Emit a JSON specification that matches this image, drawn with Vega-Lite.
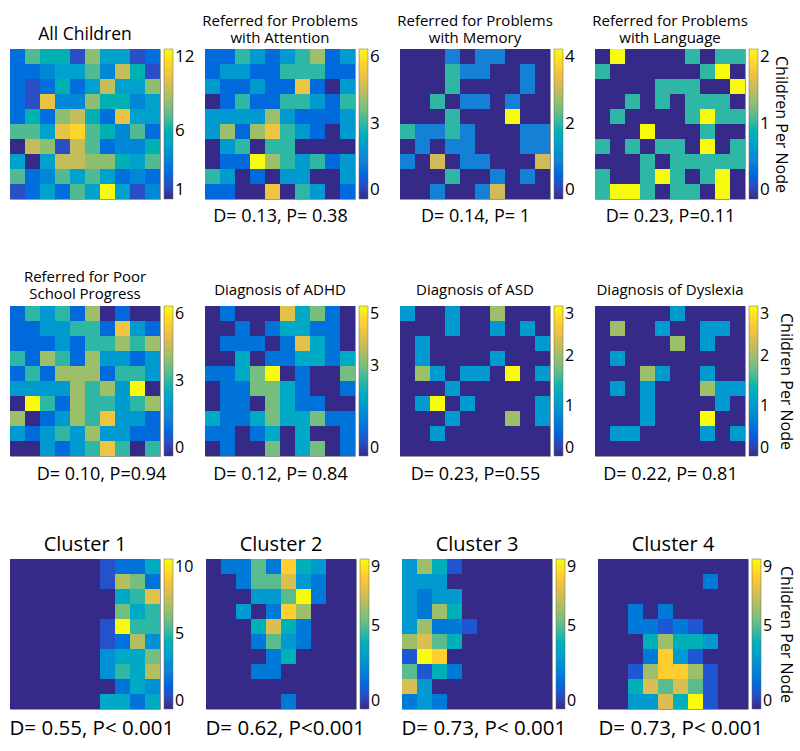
{
"$schema": "https://vega.github.io/schema/vega-lite/v6.json",
"background": "white",
"padding": {"left": 8, "top": 13, "right": 4, "bottom": 4},
"config": {
"font": "Open Sans",
"view": {"stroke": "#9a9a9a", "strokeWidth": 1},
"title": {"fontWeight": "normal", "color": "black", "frame": "group", "anchor": "middle", "lineHeight": 17},
"axis": {"titleFontWeight": "normal", "titleColor": "black"},
"legend": {"labelFontSize": 16, "labelColor": "black", "gradientThickness": 9, "labelOffset": 3, "offset": 4, "labelBaseline": "middle", "gradientStrokeColor": "#666", "gradientStrokeWidth": 0.5, "titleFontWeight": "normal", "titleColor": "black"}
},
"datasets": {
"p1": [
{"r":0,"c":0,"v":3},{"r":0,"c":1,"v":7},{"r":0,"c":2,"v":6},{"r":0,"c":3,"v":6},{"r":0,"c":4,"v":2},{"r":0,"c":5,"v":8},{"r":0,"c":6,"v":5},{"r":0,"c":7,"v":5},{"r":0,"c":8,"v":2},{"r":0,"c":9,"v":3},
{"r":1,"c":0,"v":3},{"r":1,"c":1,"v":3},{"r":1,"c":2,"v":4},{"r":1,"c":3,"v":5},{"r":1,"c":4,"v":5},{"r":1,"c":5,"v":7},{"r":1,"c":6,"v":4},{"r":1,"c":7,"v":9},{"r":1,"c":8,"v":6},{"r":1,"c":9,"v":2},
{"r":2,"c":0,"v":3},{"r":2,"c":1,"v":2},{"r":2,"c":2,"v":3},{"r":2,"c":3,"v":6},{"r":2,"c":4,"v":3},{"r":2,"c":5,"v":5},{"r":2,"c":6,"v":9},{"r":2,"c":7,"v":5},{"r":2,"c":8,"v":5},{"r":2,"c":9,"v":8},
{"r":3,"c":0,"v":3},{"r":3,"c":1,"v":2},{"r":3,"c":2,"v":10},{"r":3,"c":3,"v":4},{"r":3,"c":4,"v":4},{"r":3,"c":5,"v":8},{"r":3,"c":6,"v":6},{"r":3,"c":7,"v":6},{"r":3,"c":8,"v":4},{"r":3,"c":9,"v":5},
{"r":4,"c":0,"v":3},{"r":4,"c":1,"v":6},{"r":4,"c":2,"v":3},{"r":4,"c":3,"v":8},{"r":4,"c":4,"v":9},{"r":4,"c":5,"v":6},{"r":4,"c":6,"v":3},{"r":4,"c":7,"v":10},{"r":4,"c":8,"v":5},{"r":4,"c":9,"v":5},
{"r":5,"c":0,"v":7},{"r":5,"c":1,"v":7},{"r":5,"c":2,"v":5},{"r":5,"c":3,"v":10},{"r":5,"c":4,"v":11},{"r":5,"c":5,"v":7},{"r":5,"c":6,"v":6},{"r":5,"c":7,"v":4},{"r":5,"c":8,"v":7},{"r":5,"c":9,"v":3},
{"r":6,"c":0,"v":1},{"r":6,"c":1,"v":9},{"r":6,"c":2,"v":8},{"r":6,"c":3,"v":2},{"r":6,"c":4,"v":9},{"r":6,"c":5,"v":7},{"r":6,"c":6,"v":3},{"r":6,"c":7,"v":4},{"r":6,"c":8,"v":4},{"r":6,"c":9,"v":6},
{"r":7,"c":0,"v":5},{"r":7,"c":1,"v":1},{"r":7,"c":2,"v":5},{"r":7,"c":3,"v":9},{"r":7,"c":4,"v":9},{"r":7,"c":5,"v":8},{"r":7,"c":6,"v":8},{"r":7,"c":7,"v":6},{"r":7,"c":8,"v":5},{"r":7,"c":9,"v":7},
{"r":8,"c":0,"v":7},{"r":8,"c":1,"v":3},{"r":8,"c":2,"v":4},{"r":8,"c":3,"v":7},{"r":8,"c":4,"v":5},{"r":8,"c":5,"v":7},{"r":8,"c":6,"v":5},{"r":8,"c":7,"v":3},{"r":8,"c":8,"v":4},{"r":8,"c":9,"v":3},
{"r":9,"c":0,"v":2},{"r":9,"c":1,"v":3},{"r":9,"c":2,"v":5},{"r":9,"c":3,"v":3},{"r":9,"c":4,"v":7},{"r":9,"c":5,"v":5},{"r":9,"c":6,"v":12},{"r":9,"c":7,"v":5},{"r":9,"c":8,"v":2},{"r":9,"c":9,"v":4}
],
"p2": [
{"r":0,"c":0,"v":1},{"r":0,"c":1,"v":1},{"r":0,"c":2,"v":3},{"r":0,"c":3,"v":2},{"r":0,"c":4,"v":1},{"r":0,"c":5,"v":2},{"r":0,"c":6,"v":3},{"r":0,"c":7,"v":4},{"r":0,"c":8,"v":1},{"r":0,"c":9,"v":2},
{"r":1,"c":0,"v":1},{"r":1,"c":1,"v":2},{"r":1,"c":2,"v":2},{"r":1,"c":3,"v":1},{"r":1,"c":4,"v":1},{"r":1,"c":5,"v":3},{"r":1,"c":6,"v":3},{"r":1,"c":7,"v":3},{"r":1,"c":8,"v":1},{"r":1,"c":9,"v":1},
{"r":2,"c":0,"v":2},{"r":2,"c":1,"v":1},{"r":2,"c":2,"v":1},{"r":2,"c":3,"v":2},{"r":2,"c":4,"v":1},{"r":2,"c":5,"v":1},{"r":2,"c":6,"v":5},{"r":2,"c":7,"v":1},{"r":2,"c":8,"v":0},{"r":2,"c":9,"v":2},
{"r":3,"c":0,"v":0},{"r":3,"c":1,"v":1},{"r":3,"c":2,"v":3},{"r":3,"c":3,"v":1},{"r":3,"c":4,"v":1},{"r":3,"c":5,"v":3},{"r":3,"c":6,"v":3},{"r":3,"c":7,"v":2},{"r":3,"c":8,"v":1},{"r":3,"c":9,"v":3},
{"r":4,"c":0,"v":2},{"r":4,"c":1,"v":2},{"r":4,"c":2,"v":2},{"r":4,"c":3,"v":2},{"r":4,"c":4,"v":4},{"r":4,"c":5,"v":2},{"r":4,"c":6,"v":1},{"r":4,"c":7,"v":1},{"r":4,"c":8,"v":1},{"r":4,"c":9,"v":2},
{"r":5,"c":0,"v":2},{"r":5,"c":1,"v":4},{"r":5,"c":2,"v":1},{"r":5,"c":3,"v":4},{"r":5,"c":4,"v":5},{"r":5,"c":5,"v":3},{"r":5,"c":6,"v":2},{"r":5,"c":7,"v":1},{"r":5,"c":8,"v":0},{"r":5,"c":9,"v":2},
{"r":6,"c":0,"v":0},{"r":6,"c":1,"v":2},{"r":6,"c":2,"v":3},{"r":6,"c":3,"v":0},{"r":6,"c":4,"v":3},{"r":6,"c":5,"v":3},{"r":6,"c":6,"v":0},{"r":6,"c":7,"v":0},{"r":6,"c":8,"v":0},{"r":6,"c":9,"v":0},
{"r":7,"c":0,"v":0},{"r":7,"c":1,"v":1},{"r":7,"c":2,"v":1},{"r":7,"c":3,"v":6},{"r":7,"c":4,"v":4},{"r":7,"c":5,"v":3},{"r":7,"c":6,"v":2},{"r":7,"c":7,"v":3},{"r":7,"c":8,"v":1},{"r":7,"c":9,"v":2},
{"r":8,"c":0,"v":3},{"r":8,"c":1,"v":2},{"r":8,"c":2,"v":0},{"r":8,"c":3,"v":1},{"r":8,"c":4,"v":0},{"r":8,"c":5,"v":2},{"r":8,"c":6,"v":2},{"r":8,"c":7,"v":0},{"r":8,"c":8,"v":0},{"r":8,"c":9,"v":2},
{"r":9,"c":0,"v":1},{"r":9,"c":1,"v":1},{"r":9,"c":2,"v":0},{"r":9,"c":3,"v":0},{"r":9,"c":4,"v":5},{"r":9,"c":5,"v":0},{"r":9,"c":6,"v":3},{"r":9,"c":7,"v":2},{"r":9,"c":8,"v":0},{"r":9,"c":9,"v":1}
],
"p3": [
{"r":0,"c":0,"v":0},{"r":0,"c":1,"v":0},{"r":0,"c":2,"v":0},{"r":0,"c":3,"v":1},{"r":0,"c":4,"v":0},{"r":0,"c":5,"v":1},{"r":0,"c":6,"v":1},{"r":0,"c":7,"v":0},{"r":0,"c":8,"v":0},{"r":0,"c":9,"v":0},
{"r":1,"c":0,"v":0},{"r":1,"c":1,"v":0},{"r":1,"c":2,"v":0},{"r":1,"c":3,"v":2},{"r":1,"c":4,"v":1},{"r":1,"c":5,"v":1},{"r":1,"c":6,"v":0},{"r":1,"c":7,"v":0},{"r":1,"c":8,"v":1},{"r":1,"c":9,"v":0},
{"r":2,"c":0,"v":0},{"r":2,"c":1,"v":0},{"r":2,"c":2,"v":0},{"r":2,"c":3,"v":2},{"r":2,"c":4,"v":0},{"r":2,"c":5,"v":0},{"r":2,"c":6,"v":0},{"r":2,"c":7,"v":0},{"r":2,"c":8,"v":1},{"r":2,"c":9,"v":0},
{"r":3,"c":0,"v":0},{"r":3,"c":1,"v":0},{"r":3,"c":2,"v":2},{"r":3,"c":3,"v":0},{"r":3,"c":4,"v":1},{"r":3,"c":5,"v":1},{"r":3,"c":6,"v":0},{"r":3,"c":7,"v":1},{"r":3,"c":8,"v":0},{"r":3,"c":9,"v":0},
{"r":4,"c":0,"v":0},{"r":4,"c":1,"v":0},{"r":4,"c":2,"v":0},{"r":4,"c":3,"v":2},{"r":4,"c":4,"v":0},{"r":4,"c":5,"v":0},{"r":4,"c":6,"v":0},{"r":4,"c":7,"v":4},{"r":4,"c":8,"v":0},{"r":4,"c":9,"v":0},
{"r":5,"c":0,"v":2},{"r":5,"c":1,"v":1},{"r":5,"c":2,"v":1},{"r":5,"c":3,"v":2},{"r":5,"c":4,"v":1},{"r":5,"c":5,"v":0},{"r":5,"c":6,"v":0},{"r":5,"c":7,"v":0},{"r":5,"c":8,"v":1},{"r":5,"c":9,"v":1},
{"r":6,"c":0,"v":0},{"r":6,"c":1,"v":1},{"r":6,"c":2,"v":0},{"r":6,"c":3,"v":1},{"r":6,"c":4,"v":1},{"r":6,"c":5,"v":0},{"r":6,"c":6,"v":0},{"r":6,"c":7,"v":0},{"r":6,"c":8,"v":1},{"r":6,"c":9,"v":1},
{"r":7,"c":0,"v":1},{"r":7,"c":1,"v":0},{"r":7,"c":2,"v":3},{"r":7,"c":3,"v":0},{"r":7,"c":4,"v":1},{"r":7,"c":5,"v":1},{"r":7,"c":6,"v":0},{"r":7,"c":7,"v":0},{"r":7,"c":8,"v":0},{"r":7,"c":9,"v":3},
{"r":8,"c":0,"v":0},{"r":8,"c":1,"v":0},{"r":8,"c":2,"v":0},{"r":8,"c":3,"v":2},{"r":8,"c":4,"v":0},{"r":8,"c":5,"v":0},{"r":8,"c":6,"v":1},{"r":8,"c":7,"v":0},{"r":8,"c":8,"v":1},{"r":8,"c":9,"v":0},
{"r":9,"c":0,"v":0},{"r":9,"c":1,"v":0},{"r":9,"c":2,"v":1},{"r":9,"c":3,"v":0},{"r":9,"c":4,"v":0},{"r":9,"c":5,"v":1},{"r":9,"c":6,"v":3},{"r":9,"c":7,"v":0},{"r":9,"c":8,"v":0},{"r":9,"c":9,"v":0}
],
"p4": [
{"r":0,"c":0,"v":0},{"r":0,"c":1,"v":2},{"r":0,"c":2,"v":0},{"r":0,"c":3,"v":0},{"r":0,"c":4,"v":0},{"r":0,"c":5,"v":0},{"r":0,"c":6,"v":1},{"r":0,"c":7,"v":0},{"r":0,"c":8,"v":1},{"r":0,"c":9,"v":1},
{"r":1,"c":0,"v":1},{"r":1,"c":1,"v":0},{"r":1,"c":2,"v":0},{"r":1,"c":3,"v":0},{"r":1,"c":4,"v":0},{"r":1,"c":5,"v":0},{"r":1,"c":6,"v":0},{"r":1,"c":7,"v":1},{"r":1,"c":8,"v":2},{"r":1,"c":9,"v":0},
{"r":2,"c":0,"v":0},{"r":2,"c":1,"v":0},{"r":2,"c":2,"v":0},{"r":2,"c":3,"v":0},{"r":2,"c":4,"v":1},{"r":2,"c":5,"v":1},{"r":2,"c":6,"v":1},{"r":2,"c":7,"v":0},{"r":2,"c":8,"v":0},{"r":2,"c":9,"v":2},
{"r":3,"c":0,"v":0},{"r":3,"c":1,"v":0},{"r":3,"c":2,"v":1},{"r":3,"c":3,"v":0},{"r":3,"c":4,"v":1},{"r":3,"c":5,"v":0},{"r":3,"c":6,"v":1},{"r":3,"c":7,"v":1},{"r":3,"c":8,"v":1},{"r":3,"c":9,"v":0},
{"r":4,"c":0,"v":0},{"r":4,"c":1,"v":1},{"r":4,"c":2,"v":0},{"r":4,"c":3,"v":0},{"r":4,"c":4,"v":0},{"r":4,"c":5,"v":0},{"r":4,"c":6,"v":1},{"r":4,"c":7,"v":2},{"r":4,"c":8,"v":1},{"r":4,"c":9,"v":1},
{"r":5,"c":0,"v":0},{"r":5,"c":1,"v":0},{"r":5,"c":2,"v":0},{"r":5,"c":3,"v":2},{"r":5,"c":4,"v":0},{"r":5,"c":5,"v":0},{"r":5,"c":6,"v":0},{"r":5,"c":7,"v":1},{"r":5,"c":8,"v":0},{"r":5,"c":9,"v":0},
{"r":6,"c":0,"v":1},{"r":6,"c":1,"v":0},{"r":6,"c":2,"v":1},{"r":6,"c":3,"v":0},{"r":6,"c":4,"v":1},{"r":6,"c":5,"v":1},{"r":6,"c":6,"v":0},{"r":6,"c":7,"v":2},{"r":6,"c":8,"v":0},{"r":6,"c":9,"v":1},
{"r":7,"c":0,"v":0},{"r":7,"c":1,"v":0},{"r":7,"c":2,"v":0},{"r":7,"c":3,"v":1},{"r":7,"c":4,"v":0},{"r":7,"c":5,"v":1},{"r":7,"c":6,"v":1},{"r":7,"c":7,"v":1},{"r":7,"c":8,"v":1},{"r":7,"c":9,"v":1},
{"r":8,"c":0,"v":1},{"r":8,"c":1,"v":0},{"r":8,"c":2,"v":0},{"r":8,"c":3,"v":1},{"r":8,"c":4,"v":2},{"r":8,"c":5,"v":1},{"r":8,"c":6,"v":0},{"r":8,"c":7,"v":1},{"r":8,"c":8,"v":2},{"r":8,"c":9,"v":0},
{"r":9,"c":0,"v":1},{"r":9,"c":1,"v":2},{"r":9,"c":2,"v":2},{"r":9,"c":3,"v":1},{"r":9,"c":4,"v":0},{"r":9,"c":5,"v":1},{"r":9,"c":6,"v":1},{"r":9,"c":7,"v":0},{"r":9,"c":8,"v":2},{"r":9,"c":9,"v":0}
],
"p5": [
{"r":0,"c":0,"v":1},{"r":0,"c":1,"v":3},{"r":0,"c":2,"v":2},{"r":0,"c":3,"v":3},{"r":0,"c":4,"v":1},{"r":0,"c":5,"v":4},{"r":0,"c":6,"v":0},{"r":0,"c":7,"v":1},{"r":0,"c":8,"v":0},{"r":0,"c":9,"v":0},
{"r":1,"c":0,"v":1},{"r":1,"c":1,"v":1},{"r":1,"c":2,"v":2},{"r":1,"c":3,"v":2},{"r":1,"c":4,"v":3},{"r":1,"c":5,"v":3},{"r":1,"c":6,"v":1},{"r":1,"c":7,"v":5},{"r":1,"c":8,"v":2},{"r":1,"c":9,"v":1},
{"r":2,"c":0,"v":1},{"r":2,"c":1,"v":1},{"r":2,"c":2,"v":1},{"r":2,"c":3,"v":2},{"r":2,"c":4,"v":1},{"r":2,"c":5,"v":3},{"r":2,"c":6,"v":3},{"r":2,"c":7,"v":4},{"r":2,"c":8,"v":3},{"r":2,"c":9,"v":4},
{"r":3,"c":0,"v":3},{"r":3,"c":1,"v":1},{"r":3,"c":2,"v":4},{"r":3,"c":3,"v":3},{"r":3,"c":4,"v":1},{"r":3,"c":5,"v":4},{"r":3,"c":6,"v":2},{"r":3,"c":7,"v":2},{"r":3,"c":8,"v":1},{"r":3,"c":9,"v":2},
{"r":4,"c":0,"v":1},{"r":4,"c":1,"v":3},{"r":4,"c":2,"v":1},{"r":4,"c":3,"v":4},{"r":4,"c":4,"v":4},{"r":4,"c":5,"v":4},{"r":4,"c":6,"v":1},{"r":4,"c":7,"v":3},{"r":4,"c":8,"v":3},{"r":4,"c":9,"v":2},
{"r":5,"c":0,"v":2},{"r":5,"c":1,"v":2},{"r":5,"c":2,"v":2},{"r":5,"c":3,"v":2},{"r":5,"c":4,"v":4},{"r":5,"c":5,"v":3},{"r":5,"c":6,"v":4},{"r":5,"c":7,"v":2},{"r":5,"c":8,"v":6},{"r":5,"c":9,"v":0},
{"r":6,"c":0,"v":0},{"r":6,"c":1,"v":6},{"r":6,"c":2,"v":3},{"r":6,"c":3,"v":1},{"r":6,"c":4,"v":4},{"r":6,"c":5,"v":3},{"r":6,"c":6,"v":3},{"r":6,"c":7,"v":2},{"r":6,"c":8,"v":3},{"r":6,"c":9,"v":4},
{"r":7,"c":0,"v":4},{"r":7,"c":1,"v":0},{"r":7,"c":2,"v":1},{"r":7,"c":3,"v":2},{"r":7,"c":4,"v":4},{"r":7,"c":5,"v":3},{"r":7,"c":6,"v":5},{"r":7,"c":7,"v":2},{"r":7,"c":8,"v":2},{"r":7,"c":9,"v":1},
{"r":8,"c":0,"v":2},{"r":8,"c":1,"v":1},{"r":8,"c":2,"v":2},{"r":8,"c":3,"v":3},{"r":8,"c":4,"v":2},{"r":8,"c":5,"v":4},{"r":8,"c":6,"v":2},{"r":8,"c":7,"v":2},{"r":8,"c":8,"v":1},{"r":8,"c":9,"v":1},
{"r":9,"c":0,"v":0},{"r":9,"c":1,"v":0},{"r":9,"c":2,"v":2},{"r":9,"c":3,"v":1},{"r":9,"c":4,"v":2},{"r":9,"c":5,"v":3},{"r":9,"c":6,"v":5},{"r":9,"c":7,"v":3},{"r":9,"c":8,"v":0},{"r":9,"c":9,"v":3}
],
"p6": [
{"r":0,"c":0,"v":0},{"r":0,"c":1,"v":1},{"r":0,"c":2,"v":0},{"r":0,"c":3,"v":0},{"r":0,"c":4,"v":0},{"r":0,"c":5,"v":4},{"r":0,"c":6,"v":2},{"r":0,"c":7,"v":3},{"r":0,"c":8,"v":1},{"r":0,"c":9,"v":0},
{"r":1,"c":0,"v":0},{"r":1,"c":1,"v":0},{"r":1,"c":2,"v":1},{"r":1,"c":3,"v":0},{"r":1,"c":4,"v":1},{"r":1,"c":5,"v":2},{"r":1,"c":6,"v":2},{"r":1,"c":7,"v":1},{"r":1,"c":8,"v":1},{"r":1,"c":9,"v":0},
{"r":2,"c":0,"v":0},{"r":2,"c":1,"v":1},{"r":2,"c":2,"v":1},{"r":2,"c":3,"v":1},{"r":2,"c":4,"v":0},{"r":2,"c":5,"v":1},{"r":2,"c":6,"v":4},{"r":2,"c":7,"v":2},{"r":2,"c":8,"v":1},{"r":2,"c":9,"v":0},
{"r":3,"c":0,"v":0},{"r":3,"c":1,"v":0},{"r":3,"c":2,"v":2},{"r":3,"c":3,"v":0},{"r":3,"c":4,"v":1},{"r":3,"c":5,"v":1},{"r":3,"c":6,"v":2},{"r":3,"c":7,"v":2},{"r":3,"c":8,"v":1},{"r":3,"c":9,"v":2},
{"r":4,"c":0,"v":1},{"r":4,"c":1,"v":1},{"r":4,"c":2,"v":2},{"r":4,"c":3,"v":3},{"r":4,"c":4,"v":5},{"r":4,"c":5,"v":0},{"r":4,"c":6,"v":1},{"r":4,"c":7,"v":0},{"r":4,"c":8,"v":0},{"r":4,"c":9,"v":3},
{"r":5,"c":0,"v":0},{"r":5,"c":1,"v":1},{"r":5,"c":2,"v":1},{"r":5,"c":3,"v":3},{"r":5,"c":4,"v":3},{"r":5,"c":5,"v":2},{"r":5,"c":6,"v":1},{"r":5,"c":7,"v":0},{"r":5,"c":8,"v":0},{"r":5,"c":9,"v":1},
{"r":6,"c":0,"v":0},{"r":6,"c":1,"v":1},{"r":6,"c":2,"v":1},{"r":6,"c":3,"v":0},{"r":6,"c":4,"v":3},{"r":6,"c":5,"v":2},{"r":6,"c":6,"v":1},{"r":6,"c":7,"v":1},{"r":6,"c":8,"v":0},{"r":6,"c":9,"v":0},
{"r":7,"c":0,"v":2},{"r":7,"c":1,"v":1},{"r":7,"c":2,"v":1},{"r":7,"c":3,"v":2},{"r":7,"c":4,"v":3},{"r":7,"c":5,"v":2},{"r":7,"c":6,"v":2},{"r":7,"c":7,"v":3},{"r":7,"c":8,"v":1},{"r":7,"c":9,"v":1},
{"r":8,"c":0,"v":1},{"r":8,"c":1,"v":1},{"r":8,"c":2,"v":0},{"r":8,"c":3,"v":1},{"r":8,"c":4,"v":2},{"r":8,"c":5,"v":0},{"r":8,"c":6,"v":2},{"r":8,"c":7,"v":0},{"r":8,"c":8,"v":0},{"r":8,"c":9,"v":1},
{"r":9,"c":0,"v":0},{"r":9,"c":1,"v":1},{"r":9,"c":2,"v":0},{"r":9,"c":3,"v":0},{"r":9,"c":4,"v":3},{"r":9,"c":5,"v":0},{"r":9,"c":6,"v":2},{"r":9,"c":7,"v":3},{"r":9,"c":8,"v":0},{"r":9,"c":9,"v":1}
],
"p7": [
{"r":0,"c":0,"v":1},{"r":0,"c":1,"v":0},{"r":0,"c":2,"v":0},{"r":0,"c":3,"v":1},{"r":0,"c":4,"v":0},{"r":0,"c":5,"v":0},{"r":0,"c":6,"v":2},{"r":0,"c":7,"v":0},{"r":0,"c":8,"v":0},{"r":0,"c":9,"v":0},
{"r":1,"c":0,"v":0},{"r":1,"c":1,"v":0},{"r":1,"c":2,"v":0},{"r":1,"c":3,"v":1},{"r":1,"c":4,"v":0},{"r":1,"c":5,"v":0},{"r":1,"c":6,"v":1},{"r":1,"c":7,"v":0},{"r":1,"c":8,"v":1},{"r":1,"c":9,"v":0},
{"r":2,"c":0,"v":0},{"r":2,"c":1,"v":1},{"r":2,"c":2,"v":0},{"r":2,"c":3,"v":0},{"r":2,"c":4,"v":0},{"r":2,"c":5,"v":0},{"r":2,"c":6,"v":0},{"r":2,"c":7,"v":0},{"r":2,"c":8,"v":0},{"r":2,"c":9,"v":1},
{"r":3,"c":0,"v":0},{"r":3,"c":1,"v":1},{"r":3,"c":2,"v":0},{"r":3,"c":3,"v":0},{"r":3,"c":4,"v":0},{"r":3,"c":5,"v":0},{"r":3,"c":6,"v":1},{"r":3,"c":7,"v":0},{"r":3,"c":8,"v":0},{"r":3,"c":9,"v":0},
{"r":4,"c":0,"v":0},{"r":4,"c":1,"v":2},{"r":4,"c":2,"v":1},{"r":4,"c":3,"v":0},{"r":4,"c":4,"v":1},{"r":4,"c":5,"v":1},{"r":4,"c":6,"v":0},{"r":4,"c":7,"v":3},{"r":4,"c":8,"v":0},{"r":4,"c":9,"v":1},
{"r":5,"c":0,"v":0},{"r":5,"c":1,"v":0},{"r":5,"c":2,"v":0},{"r":5,"c":3,"v":1},{"r":5,"c":4,"v":0},{"r":5,"c":5,"v":0},{"r":5,"c":6,"v":0},{"r":5,"c":7,"v":0},{"r":5,"c":8,"v":0},{"r":5,"c":9,"v":0},
{"r":6,"c":0,"v":0},{"r":6,"c":1,"v":1},{"r":6,"c":2,"v":3},{"r":6,"c":3,"v":0},{"r":6,"c":4,"v":1},{"r":6,"c":5,"v":0},{"r":6,"c":6,"v":0},{"r":6,"c":7,"v":0},{"r":6,"c":8,"v":0},{"r":6,"c":9,"v":1},
{"r":7,"c":0,"v":0},{"r":7,"c":1,"v":0},{"r":7,"c":2,"v":0},{"r":7,"c":3,"v":1},{"r":7,"c":4,"v":0},{"r":7,"c":5,"v":0},{"r":7,"c":6,"v":0},{"r":7,"c":7,"v":2},{"r":7,"c":8,"v":0},{"r":7,"c":9,"v":1},
{"r":8,"c":0,"v":0},{"r":8,"c":1,"v":0},{"r":8,"c":2,"v":1},{"r":8,"c":3,"v":0},{"r":8,"c":4,"v":0},{"r":8,"c":5,"v":0},{"r":8,"c":6,"v":0},{"r":8,"c":7,"v":0},{"r":8,"c":8,"v":0},{"r":8,"c":9,"v":0},
{"r":9,"c":0,"v":0},{"r":9,"c":1,"v":0},{"r":9,"c":2,"v":0},{"r":9,"c":3,"v":0},{"r":9,"c":4,"v":0},{"r":9,"c":5,"v":0},{"r":9,"c":6,"v":0},{"r":9,"c":7,"v":0},{"r":9,"c":8,"v":0},{"r":9,"c":9,"v":0}
],
"p8": [
{"r":0,"c":0,"v":0},{"r":0,"c":1,"v":0},{"r":0,"c":2,"v":0},{"r":0,"c":3,"v":0},{"r":0,"c":4,"v":0},{"r":0,"c":5,"v":1},{"r":0,"c":6,"v":0},{"r":0,"c":7,"v":0},{"r":0,"c":8,"v":0},{"r":0,"c":9,"v":0},
{"r":1,"c":0,"v":0},{"r":1,"c":1,"v":2},{"r":1,"c":2,"v":0},{"r":1,"c":3,"v":0},{"r":1,"c":4,"v":1},{"r":1,"c":5,"v":0},{"r":1,"c":6,"v":0},{"r":1,"c":7,"v":1},{"r":1,"c":8,"v":1},{"r":1,"c":9,"v":0},
{"r":2,"c":0,"v":0},{"r":2,"c":1,"v":0},{"r":2,"c":2,"v":0},{"r":2,"c":3,"v":0},{"r":2,"c":4,"v":0},{"r":2,"c":5,"v":2},{"r":2,"c":6,"v":0},{"r":2,"c":7,"v":1},{"r":2,"c":8,"v":0},{"r":2,"c":9,"v":0},
{"r":3,"c":0,"v":0},{"r":3,"c":1,"v":1},{"r":3,"c":2,"v":0},{"r":3,"c":3,"v":0},{"r":3,"c":4,"v":0},{"r":3,"c":5,"v":0},{"r":3,"c":6,"v":0},{"r":3,"c":7,"v":0},{"r":3,"c":8,"v":0},{"r":3,"c":9,"v":0},
{"r":4,"c":0,"v":0},{"r":4,"c":1,"v":0},{"r":4,"c":2,"v":0},{"r":4,"c":3,"v":2},{"r":4,"c":4,"v":1},{"r":4,"c":5,"v":0},{"r":4,"c":6,"v":0},{"r":4,"c":7,"v":1},{"r":4,"c":8,"v":0},{"r":4,"c":9,"v":0},
{"r":5,"c":0,"v":0},{"r":5,"c":1,"v":1},{"r":5,"c":2,"v":0},{"r":5,"c":3,"v":1},{"r":5,"c":4,"v":0},{"r":5,"c":5,"v":0},{"r":5,"c":6,"v":0},{"r":5,"c":7,"v":2},{"r":5,"c":8,"v":1},{"r":5,"c":9,"v":1},
{"r":6,"c":0,"v":0},{"r":6,"c":1,"v":0},{"r":6,"c":2,"v":0},{"r":6,"c":3,"v":1},{"r":6,"c":4,"v":0},{"r":6,"c":5,"v":0},{"r":6,"c":6,"v":0},{"r":6,"c":7,"v":0},{"r":6,"c":8,"v":1},{"r":6,"c":9,"v":0},
{"r":7,"c":0,"v":0},{"r":7,"c":1,"v":0},{"r":7,"c":2,"v":0},{"r":7,"c":3,"v":1},{"r":7,"c":4,"v":0},{"r":7,"c":5,"v":0},{"r":7,"c":6,"v":0},{"r":7,"c":7,"v":3},{"r":7,"c":8,"v":0},{"r":7,"c":9,"v":0},
{"r":8,"c":0,"v":0},{"r":8,"c":1,"v":1},{"r":8,"c":2,"v":1},{"r":8,"c":3,"v":0},{"r":8,"c":4,"v":0},{"r":8,"c":5,"v":0},{"r":8,"c":6,"v":0},{"r":8,"c":7,"v":1},{"r":8,"c":8,"v":0},{"r":8,"c":9,"v":1},
{"r":9,"c":0,"v":0},{"r":9,"c":1,"v":0},{"r":9,"c":2,"v":0},{"r":9,"c":3,"v":0},{"r":9,"c":4,"v":0},{"r":9,"c":5,"v":0},{"r":9,"c":6,"v":0},{"r":9,"c":7,"v":0},{"r":9,"c":8,"v":0},{"r":9,"c":9,"v":0}
],
"p9": [
{"r":0,"c":0,"v":0},{"r":0,"c":1,"v":0},{"r":0,"c":2,"v":0},{"r":0,"c":3,"v":0},{"r":0,"c":4,"v":0},{"r":0,"c":5,"v":0},{"r":0,"c":6,"v":1},{"r":0,"c":7,"v":2},{"r":0,"c":8,"v":2},{"r":0,"c":9,"v":4},
{"r":1,"c":0,"v":0},{"r":1,"c":1,"v":0},{"r":1,"c":2,"v":0},{"r":1,"c":3,"v":0},{"r":1,"c":4,"v":0},{"r":1,"c":5,"v":0},{"r":1,"c":6,"v":1},{"r":1,"c":7,"v":7},{"r":1,"c":8,"v":6},{"r":1,"c":9,"v":2},
{"r":2,"c":0,"v":0},{"r":2,"c":1,"v":0},{"r":2,"c":2,"v":0},{"r":2,"c":3,"v":0},{"r":2,"c":4,"v":0},{"r":2,"c":5,"v":0},{"r":2,"c":6,"v":0},{"r":2,"c":7,"v":4},{"r":2,"c":8,"v":5},{"r":2,"c":9,"v":8},
{"r":3,"c":0,"v":0},{"r":3,"c":1,"v":0},{"r":3,"c":2,"v":0},{"r":3,"c":3,"v":0},{"r":3,"c":4,"v":0},{"r":3,"c":5,"v":0},{"r":3,"c":6,"v":0},{"r":3,"c":7,"v":6},{"r":3,"c":8,"v":4},{"r":3,"c":9,"v":5},
{"r":4,"c":0,"v":0},{"r":4,"c":1,"v":0},{"r":4,"c":2,"v":0},{"r":4,"c":3,"v":0},{"r":4,"c":4,"v":0},{"r":4,"c":5,"v":0},{"r":4,"c":6,"v":1},{"r":4,"c":7,"v":10},{"r":4,"c":8,"v":5},{"r":4,"c":9,"v":5},
{"r":5,"c":0,"v":0},{"r":5,"c":1,"v":0},{"r":5,"c":2,"v":0},{"r":5,"c":3,"v":0},{"r":5,"c":4,"v":0},{"r":5,"c":5,"v":0},{"r":5,"c":6,"v":1},{"r":5,"c":7,"v":2},{"r":5,"c":8,"v":7},{"r":5,"c":9,"v":3},
{"r":6,"c":0,"v":0},{"r":6,"c":1,"v":0},{"r":6,"c":2,"v":0},{"r":6,"c":3,"v":0},{"r":6,"c":4,"v":0},{"r":6,"c":5,"v":0},{"r":6,"c":6,"v":3},{"r":6,"c":7,"v":4},{"r":6,"c":8,"v":4},{"r":6,"c":9,"v":6},
{"r":7,"c":0,"v":0},{"r":7,"c":1,"v":0},{"r":7,"c":2,"v":0},{"r":7,"c":3,"v":0},{"r":7,"c":4,"v":0},{"r":7,"c":5,"v":0},{"r":7,"c":6,"v":3},{"r":7,"c":7,"v":5},{"r":7,"c":8,"v":4},{"r":7,"c":9,"v":7},
{"r":8,"c":0,"v":0},{"r":8,"c":1,"v":0},{"r":8,"c":2,"v":0},{"r":8,"c":3,"v":0},{"r":8,"c":4,"v":0},{"r":8,"c":5,"v":0},{"r":8,"c":6,"v":0},{"r":8,"c":7,"v":2},{"r":8,"c":8,"v":4},{"r":8,"c":9,"v":3},
{"r":9,"c":0,"v":0},{"r":9,"c":1,"v":0},{"r":9,"c":2,"v":0},{"r":9,"c":3,"v":0},{"r":9,"c":4,"v":0},{"r":9,"c":5,"v":0},{"r":9,"c":6,"v":4},{"r":9,"c":7,"v":4},{"r":9,"c":8,"v":2},{"r":9,"c":9,"v":4}
],
"p10": [
{"r":0,"c":0,"v":0},{"r":0,"c":1,"v":2},{"r":0,"c":2,"v":2},{"r":0,"c":3,"v":5},{"r":0,"c":4,"v":2},{"r":0,"c":5,"v":8},{"r":0,"c":6,"v":4},{"r":0,"c":7,"v":3},{"r":0,"c":8,"v":0},{"r":0,"c":9,"v":0},
{"r":1,"c":0,"v":0},{"r":1,"c":1,"v":0},{"r":1,"c":2,"v":2},{"r":1,"c":3,"v":5},{"r":1,"c":4,"v":5},{"r":1,"c":5,"v":7},{"r":1,"c":6,"v":3},{"r":1,"c":7,"v":2},{"r":1,"c":8,"v":0},{"r":1,"c":9,"v":0},
{"r":2,"c":0,"v":0},{"r":2,"c":1,"v":0},{"r":2,"c":2,"v":0},{"r":2,"c":3,"v":3},{"r":2,"c":4,"v":3},{"r":2,"c":5,"v":5},{"r":2,"c":6,"v":9},{"r":2,"c":7,"v":2},{"r":2,"c":8,"v":0},{"r":2,"c":9,"v":0},
{"r":3,"c":0,"v":0},{"r":3,"c":1,"v":0},{"r":3,"c":2,"v":3},{"r":3,"c":3,"v":0},{"r":3,"c":4,"v":2},{"r":3,"c":5,"v":8},{"r":3,"c":6,"v":6},{"r":3,"c":7,"v":0},{"r":3,"c":8,"v":0},{"r":3,"c":9,"v":0},
{"r":4,"c":0,"v":0},{"r":4,"c":1,"v":0},{"r":4,"c":2,"v":0},{"r":4,"c":3,"v":4},{"r":4,"c":4,"v":7},{"r":4,"c":5,"v":4},{"r":4,"c":6,"v":2},{"r":4,"c":7,"v":0},{"r":4,"c":8,"v":0},{"r":4,"c":9,"v":0},
{"r":5,"c":0,"v":0},{"r":5,"c":1,"v":0},{"r":5,"c":2,"v":0},{"r":5,"c":3,"v":2},{"r":5,"c":4,"v":5},{"r":5,"c":5,"v":3},{"r":5,"c":6,"v":2},{"r":5,"c":7,"v":0},{"r":5,"c":8,"v":0},{"r":5,"c":9,"v":0},
{"r":6,"c":0,"v":0},{"r":6,"c":1,"v":0},{"r":6,"c":2,"v":0},{"r":6,"c":3,"v":0},{"r":6,"c":4,"v":2},{"r":6,"c":5,"v":4},{"r":6,"c":6,"v":0},{"r":6,"c":7,"v":0},{"r":6,"c":8,"v":0},{"r":6,"c":9,"v":0},
{"r":7,"c":0,"v":0},{"r":7,"c":1,"v":0},{"r":7,"c":2,"v":0},{"r":7,"c":3,"v":2},{"r":7,"c":4,"v":2},{"r":7,"c":5,"v":0},{"r":7,"c":6,"v":0},{"r":7,"c":7,"v":0},{"r":7,"c":8,"v":0},{"r":7,"c":9,"v":0},
{"r":8,"c":0,"v":0},{"r":8,"c":1,"v":0},{"r":8,"c":2,"v":0},{"r":8,"c":3,"v":0},{"r":8,"c":4,"v":0},{"r":8,"c":5,"v":0},{"r":8,"c":6,"v":0},{"r":8,"c":7,"v":0},{"r":8,"c":8,"v":0},{"r":8,"c":9,"v":0},
{"r":9,"c":0,"v":0},{"r":9,"c":1,"v":0},{"r":9,"c":2,"v":0},{"r":9,"c":3,"v":0},{"r":9,"c":4,"v":0},{"r":9,"c":5,"v":2},{"r":9,"c":6,"v":0},{"r":9,"c":7,"v":0},{"r":9,"c":8,"v":0},{"r":9,"c":9,"v":0}
],
"p11": [
{"r":0,"c":0,"v":3},{"r":0,"c":1,"v":6},{"r":0,"c":2,"v":4},{"r":0,"c":3,"v":1},{"r":0,"c":4,"v":0},{"r":0,"c":5,"v":0},{"r":0,"c":6,"v":0},{"r":0,"c":7,"v":0},{"r":0,"c":8,"v":0},{"r":0,"c":9,"v":0},
{"r":1,"c":0,"v":3},{"r":1,"c":1,"v":3},{"r":1,"c":2,"v":3},{"r":1,"c":3,"v":0},{"r":1,"c":4,"v":0},{"r":1,"c":5,"v":0},{"r":1,"c":6,"v":0},{"r":1,"c":7,"v":0},{"r":1,"c":8,"v":0},{"r":1,"c":9,"v":0},
{"r":2,"c":0,"v":3},{"r":2,"c":1,"v":2},{"r":2,"c":2,"v":3},{"r":2,"c":3,"v":3},{"r":2,"c":4,"v":0},{"r":2,"c":5,"v":0},{"r":2,"c":6,"v":0},{"r":2,"c":7,"v":0},{"r":2,"c":8,"v":0},{"r":2,"c":9,"v":0},
{"r":3,"c":0,"v":3},{"r":3,"c":1,"v":2},{"r":3,"c":2,"v":6},{"r":3,"c":3,"v":4},{"r":3,"c":4,"v":0},{"r":3,"c":5,"v":0},{"r":3,"c":6,"v":0},{"r":3,"c":7,"v":0},{"r":3,"c":8,"v":0},{"r":3,"c":9,"v":0},
{"r":4,"c":0,"v":3},{"r":4,"c":1,"v":6},{"r":4,"c":2,"v":2},{"r":4,"c":3,"v":2},{"r":4,"c":4,"v":1},{"r":4,"c":5,"v":0},{"r":4,"c":6,"v":0},{"r":4,"c":7,"v":0},{"r":4,"c":8,"v":0},{"r":4,"c":9,"v":0},
{"r":5,"c":0,"v":6},{"r":5,"c":1,"v":7},{"r":5,"c":2,"v":5},{"r":5,"c":3,"v":4},{"r":5,"c":4,"v":0},{"r":5,"c":5,"v":0},{"r":5,"c":6,"v":0},{"r":5,"c":7,"v":0},{"r":5,"c":8,"v":0},{"r":5,"c":9,"v":0},
{"r":6,"c":0,"v":1},{"r":6,"c":1,"v":9},{"r":6,"c":2,"v":8},{"r":6,"c":3,"v":0},{"r":6,"c":4,"v":0},{"r":6,"c":5,"v":0},{"r":6,"c":6,"v":0},{"r":6,"c":7,"v":0},{"r":6,"c":8,"v":0},{"r":6,"c":9,"v":0},
{"r":7,"c":0,"v":5},{"r":7,"c":1,"v":1},{"r":7,"c":2,"v":4},{"r":7,"c":3,"v":2},{"r":7,"c":4,"v":0},{"r":7,"c":5,"v":0},{"r":7,"c":6,"v":0},{"r":7,"c":7,"v":0},{"r":7,"c":8,"v":0},{"r":7,"c":9,"v":0},
{"r":8,"c":0,"v":7},{"r":8,"c":1,"v":3},{"r":8,"c":2,"v":0},{"r":8,"c":3,"v":0},{"r":8,"c":4,"v":0},{"r":8,"c":5,"v":0},{"r":8,"c":6,"v":0},{"r":8,"c":7,"v":0},{"r":8,"c":8,"v":0},{"r":8,"c":9,"v":0},
{"r":9,"c":0,"v":2},{"r":9,"c":1,"v":3},{"r":9,"c":2,"v":2},{"r":9,"c":3,"v":0},{"r":9,"c":4,"v":0},{"r":9,"c":5,"v":0},{"r":9,"c":6,"v":0},{"r":9,"c":7,"v":0},{"r":9,"c":8,"v":0},{"r":9,"c":9,"v":0}
],
"p12": [
{"r":0,"c":0,"v":0},{"r":0,"c":1,"v":0},{"r":0,"c":2,"v":0},{"r":0,"c":3,"v":0},{"r":0,"c":4,"v":0},{"r":0,"c":5,"v":0},{"r":0,"c":6,"v":0},{"r":0,"c":7,"v":0},{"r":0,"c":8,"v":0},{"r":0,"c":9,"v":0},
{"r":1,"c":0,"v":0},{"r":1,"c":1,"v":0},{"r":1,"c":2,"v":0},{"r":1,"c":3,"v":0},{"r":1,"c":4,"v":0},{"r":1,"c":5,"v":0},{"r":1,"c":6,"v":0},{"r":1,"c":7,"v":2},{"r":1,"c":8,"v":0},{"r":1,"c":9,"v":0},
{"r":2,"c":0,"v":0},{"r":2,"c":1,"v":0},{"r":2,"c":2,"v":0},{"r":2,"c":3,"v":0},{"r":2,"c":4,"v":0},{"r":2,"c":5,"v":0},{"r":2,"c":6,"v":0},{"r":2,"c":7,"v":0},{"r":2,"c":8,"v":0},{"r":2,"c":9,"v":0},
{"r":3,"c":0,"v":0},{"r":3,"c":1,"v":0},{"r":3,"c":2,"v":2},{"r":3,"c":3,"v":0},{"r":3,"c":4,"v":2},{"r":3,"c":5,"v":0},{"r":3,"c":6,"v":0},{"r":3,"c":7,"v":0},{"r":3,"c":8,"v":0},{"r":3,"c":9,"v":0},
{"r":4,"c":0,"v":0},{"r":4,"c":1,"v":0},{"r":4,"c":2,"v":2},{"r":4,"c":3,"v":2},{"r":4,"c":4,"v":1},{"r":4,"c":5,"v":2},{"r":4,"c":6,"v":1},{"r":4,"c":7,"v":0},{"r":4,"c":8,"v":0},{"r":4,"c":9,"v":0},
{"r":5,"c":0,"v":0},{"r":5,"c":1,"v":0},{"r":5,"c":2,"v":0},{"r":5,"c":3,"v":4},{"r":5,"c":4,"v":6},{"r":5,"c":5,"v":4},{"r":5,"c":6,"v":4},{"r":5,"c":7,"v":3},{"r":5,"c":8,"v":0},{"r":5,"c":9,"v":0},
{"r":6,"c":0,"v":0},{"r":6,"c":1,"v":0},{"r":6,"c":2,"v":0},{"r":6,"c":3,"v":2},{"r":6,"c":4,"v":8},{"r":6,"c":5,"v":3},{"r":6,"c":6,"v":1},{"r":6,"c":7,"v":0},{"r":6,"c":8,"v":0},{"r":6,"c":9,"v":0},
{"r":7,"c":0,"v":0},{"r":7,"c":1,"v":0},{"r":7,"c":2,"v":1},{"r":7,"c":3,"v":6},{"r":7,"c":4,"v":8},{"r":7,"c":5,"v":8},{"r":7,"c":6,"v":6},{"r":7,"c":7,"v":1},{"r":7,"c":8,"v":0},{"r":7,"c":9,"v":0},
{"r":8,"c":0,"v":0},{"r":8,"c":1,"v":0},{"r":8,"c":2,"v":4},{"r":8,"c":3,"v":7},{"r":8,"c":4,"v":5},{"r":8,"c":5,"v":7},{"r":8,"c":6,"v":5},{"r":8,"c":7,"v":1},{"r":8,"c":8,"v":0},{"r":8,"c":9,"v":0},
{"r":9,"c":0,"v":0},{"r":9,"c":1,"v":0},{"r":9,"c":2,"v":3},{"r":9,"c":3,"v":3},{"r":9,"c":4,"v":7},{"r":9,"c":5,"v":4},{"r":9,"c":6,"v":9},{"r":9,"c":7,"v":1},{"r":9,"c":8,"v":0},{"r":9,"c":9,"v":0}
]
},
"spacing": 43,
"resolve": {"scale": {"color": "independent", "x": "independent", "y": "independent"}, "legend": {"color": "independent"}},
"vconcat": [
{
"bounds": "flush", "spacing": 45,
"resolve": {"scale": {"color": "independent", "x": "independent", "y": "independent"}, "legend": {"color": "independent"}},
"hconcat": [
{"width": 150, "height": 150, "data": {"name": "p1"},
 "title": {"text": "All Children", "fontSize": 17.5, "offset": 6},
 "mark": "rect",
 "encoding": {
  "x": {"field": "c", "type": "ordinal", "scale": {"paddingInner": 0, "paddingOuter": 0}, "axis": null},
  "y": {"field": "r", "type": "ordinal", "scale": {"paddingInner": 0, "paddingOuter": 0}, "axis": null},
  "color": {"field": "v", "type": "quantitative", "scale": {"domain": [1,2.375,3.75,5.125,6.5,7.875,9.25,10.625,12], "range": ["#352a87","#0f5cdd","#1481d6","#06a4ca","#2eb7a4","#87bf77","#d1bb59","#fec832","#f9fb0e"]}, "legend": {"title": null, "values": [1,6,12], "gradientLength": 150, "labelFontSize": 17}}
 }},
{"width": 150, "height": 150, "data": {"name": "p2"},
 "title": {"text": ["Referred for Problems", "with Attention"], "fontSize": 15, "offset": 3},
 "mark": "rect",
 "encoding": {
  "x": {"field": "c", "type": "ordinal", "scale": {"paddingInner": 0, "paddingOuter": 0}, "axis": {"title": "D= 0.13, P= 0.38", "labels": false, "ticks": false, "domain": false, "titleFontSize": 18, "titlePadding": 8}},
  "y": {"field": "r", "type": "ordinal", "scale": {"paddingInner": 0, "paddingOuter": 0}, "axis": null},
  "color": {"field": "v", "type": "quantitative", "scale": {"domain": [0,0.75,1.5,2.25,3,3.75,4.5,5.25,6], "range": ["#352a87","#0f5cdd","#1481d6","#06a4ca","#2eb7a4","#87bf77","#d1bb59","#fec832","#f9fb0e"]}, "legend": {"title": null, "values": [0,3,6], "gradientLength": 150, "labelFontSize": 17}}
 }},
{"width": 150, "height": 150, "data": {"name": "p3"},
 "title": {"text": ["Referred for Problems", "with Memory"], "fontSize": 15, "offset": 3},
 "mark": "rect",
 "encoding": {
  "x": {"field": "c", "type": "ordinal", "scale": {"paddingInner": 0, "paddingOuter": 0}, "axis": {"title": "D= 0.14, P= 1", "labels": false, "ticks": false, "domain": false, "titleFontSize": 18, "titlePadding": 8}},
  "y": {"field": "r", "type": "ordinal", "scale": {"paddingInner": 0, "paddingOuter": 0}, "axis": null},
  "color": {"field": "v", "type": "quantitative", "scale": {"domain": [0,0.5,1,1.5,2,2.5,3,3.5,4], "range": ["#352a87","#0f5cdd","#1481d6","#06a4ca","#2eb7a4","#87bf77","#d1bb59","#fec832","#f9fb0e"]}, "legend": {"title": null, "values": [0,2,4], "gradientLength": 150, "labelFontSize": 17}}
 }},
{"width": 150, "height": 150, "data": {"name": "p4"},
 "title": {"text": ["Referred for Problems", "with Language"], "fontSize": 15, "offset": 3},
 "mark": "rect",
 "encoding": {
  "x": {"field": "c", "type": "ordinal", "scale": {"paddingInner": 0, "paddingOuter": 0}, "axis": {"title": "D= 0.23, P=0.11", "labels": false, "ticks": false, "domain": false, "titleFontSize": 18, "titlePadding": 8}},
  "y": {"field": "r", "type": "ordinal", "scale": {"paddingInner": 0, "paddingOuter": 0}, "axis": {"orient": "right", "labels": false, "ticks": false, "domain": false, "title": "Children Per Node", "titleAngle": 90, "titleFontSize": 16, "titleAlign": "center", "titleBaseline": "middle", "titleX": 35, "titleY": 75}},
  "color": {"field": "v", "type": "quantitative", "scale": {"domain": [0,0.25,0.5,0.75,1,1.25,1.5,1.75,2], "range": ["#352a87","#0f5cdd","#1481d6","#06a4ca","#2eb7a4","#87bf77","#d1bb59","#fec832","#f9fb0e"]}, "legend": {"title": null, "values": [0,1,2], "gradientLength": 150, "labelFontSize": 17, "offset": -39}}
 }}
]
},
{
"spacing": 50,
"resolve": {"scale": {"color": "independent", "x": "independent", "y": "independent"}, "legend": {"color": "independent"}},
"vconcat": [
{
"bounds": "flush", "spacing": 45,
"resolve": {"scale": {"color": "independent", "x": "independent", "y": "independent"}, "legend": {"color": "independent"}},
"hconcat": [
{"width": 150, "height": 150, "data": {"name": "p5"},
 "title": {"text": ["Referred for Poor", "School Progress"], "fontSize": 15, "offset": 4},
 "mark": "rect",
 "encoding": {
  "x": {"field": "c", "type": "ordinal", "scale": {"paddingInner": 0, "paddingOuter": 0}, "axis": {"title": "D= 0.10, P=0.94", "labels": false, "ticks": false, "domain": false, "titleFontSize": 18, "titlePadding": 9, "titleX": 91}},
  "y": {"field": "r", "type": "ordinal", "scale": {"paddingInner": 0, "paddingOuter": 0}, "axis": null},
  "color": {"field": "v", "type": "quantitative", "scale": {"domain": [0,0.75,1.5,2.25,3,3.75,4.5,5.25,6], "range": ["#352a87","#0f5cdd","#1481d6","#06a4ca","#2eb7a4","#87bf77","#d1bb59","#fec832","#f9fb0e"]}, "legend": {"title": null, "values": [0,3,6], "gradientLength": 150}}
 }},
{"width": 150, "height": 150, "data": {"name": "p6"},
 "title": {"text": "Diagnosis of ADHD", "fontSize": 15, "offset": 8},
 "mark": "rect",
 "encoding": {
  "x": {"field": "c", "type": "ordinal", "scale": {"paddingInner": 0, "paddingOuter": 0}, "axis": {"title": "D= 0.12, P= 0.84", "labels": false, "ticks": false, "domain": false, "titleFontSize": 18, "titlePadding": 9}},
  "y": {"field": "r", "type": "ordinal", "scale": {"paddingInner": 0, "paddingOuter": 0}, "axis": null},
  "color": {"field": "v", "type": "quantitative", "scale": {"domain": [0,0.625,1.25,1.875,2.5,3.125,3.75,4.375,5], "range": ["#352a87","#0f5cdd","#1481d6","#06a4ca","#2eb7a4","#87bf77","#d1bb59","#fec832","#f9fb0e"]}, "legend": {"title": null, "values": [0,3,5], "gradientLength": 150}}
 }},
{"width": 150, "height": 150, "data": {"name": "p7"},
 "title": {"text": "Diagnosis of ASD", "fontSize": 15, "offset": 8},
 "mark": "rect",
 "encoding": {
  "x": {"field": "c", "type": "ordinal", "scale": {"paddingInner": 0, "paddingOuter": 0}, "axis": {"title": "D= 0.23, P=0.55", "labels": false, "ticks": false, "domain": false, "titleFontSize": 18, "titlePadding": 9}},
  "y": {"field": "r", "type": "ordinal", "scale": {"paddingInner": 0, "paddingOuter": 0}, "axis": null},
  "color": {"field": "v", "type": "quantitative", "scale": {"domain": [0,0.375,0.75,1.125,1.5,1.875,2.25,2.625,3], "range": ["#352a87","#0f5cdd","#1481d6","#06a4ca","#2eb7a4","#87bf77","#d1bb59","#fec832","#f9fb0e"]}, "legend": {"title": null, "values": [0,1,2,3], "gradientLength": 150}}
 }},
{"width": 150, "height": 150, "data": {"name": "p8"},
 "title": {"text": "Diagnosis of Dyslexia", "fontSize": 15, "offset": 8},
 "mark": "rect",
 "encoding": {
  "x": {"field": "c", "type": "ordinal", "scale": {"paddingInner": 0, "paddingOuter": 0}, "axis": {"title": "D= 0.22, P= 0.81", "labels": false, "ticks": false, "domain": false, "titleFontSize": 18, "titlePadding": 9}},
  "y": {"field": "r", "type": "ordinal", "scale": {"paddingInner": 0, "paddingOuter": 0}, "axis": {"orient": "right", "labels": false, "ticks": false, "domain": false, "title": "Children Per Node", "titleAngle": 90, "titleFontSize": 16, "titleAlign": "center", "titleBaseline": "middle", "titleX": 40, "titleY": 75}},
  "color": {"field": "v", "type": "quantitative", "scale": {"domain": [0,0.375,0.75,1.125,1.5,1.875,2.25,2.625,3], "range": ["#352a87","#0f5cdd","#1481d6","#06a4ca","#2eb7a4","#87bf77","#d1bb59","#fec832","#f9fb0e"]}, "legend": {"title": null, "values": [0,1,2,3], "gradientLength": 150, "offset": -44}}
 }}
]
},
{
"bounds": "flush", "spacing": 46,
"resolve": {"scale": {"color": "independent", "x": "independent", "y": "independent"}, "legend": {"color": "independent"}},
"hconcat": [
{"width": 150, "height": 150, "data": {"name": "p9"},
 "title": {"text": "Cluster 1", "fontSize": 20, "offset": 4},
 "mark": "rect",
 "encoding": {
  "x": {"field": "c", "type": "ordinal", "scale": {"paddingInner": 0, "paddingOuter": 0}, "axis": {"title": "D= 0.55, P< 0.001", "labels": false, "ticks": false, "domain": false, "titleFontSize": 20.5, "titlePadding": 9, "titleAnchor": "start", "titleAlign": "left", "titleX": -1}},
  "y": {"field": "r", "type": "ordinal", "scale": {"paddingInner": 0, "paddingOuter": 0}, "axis": null},
  "color": {"field": "v", "type": "quantitative", "scale": {"domain": [0,1.25,2.5,3.75,5,6.25,7.5,8.75,10], "range": ["#352a87","#0f5cdd","#1481d6","#06a4ca","#2eb7a4","#87bf77","#d1bb59","#fec832","#f9fb0e"]}, "legend": {"title": null, "values": [0,5,10], "gradientLength": 150}}
 }},
{"width": 150, "height": 150, "data": {"name": "p10"},
 "title": {"text": "Cluster 2", "fontSize": 20, "offset": 4},
 "mark": "rect",
 "encoding": {
  "x": {"field": "c", "type": "ordinal", "scale": {"paddingInner": 0, "paddingOuter": 0}, "axis": {"title": "D= 0.62, P<0.001", "labels": false, "ticks": false, "domain": false, "titleFontSize": 20.5, "titlePadding": 9, "titleAnchor": "start", "titleAlign": "left", "titleX": -1}},
  "y": {"field": "r", "type": "ordinal", "scale": {"paddingInner": 0, "paddingOuter": 0}, "axis": null},
  "color": {"field": "v", "type": "quantitative", "scale": {"domain": [0,1.125,2.25,3.375,4.5,5.625,6.75,7.875,9], "range": ["#352a87","#0f5cdd","#1481d6","#06a4ca","#2eb7a4","#87bf77","#d1bb59","#fec832","#f9fb0e"]}, "legend": {"title": null, "values": [0,5,9], "gradientLength": 150}}
 }},
{"width": 150, "height": 150, "data": {"name": "p11"},
 "title": {"text": "Cluster 3", "fontSize": 20, "offset": 4},
 "mark": "rect",
 "encoding": {
  "x": {"field": "c", "type": "ordinal", "scale": {"paddingInner": 0, "paddingOuter": 0}, "axis": {"title": "D= 0.73, P< 0.001", "labels": false, "ticks": false, "domain": false, "titleFontSize": 20.5, "titlePadding": 9, "titleAnchor": "start", "titleAlign": "left", "titleX": -1}},
  "y": {"field": "r", "type": "ordinal", "scale": {"paddingInner": 0, "paddingOuter": 0}, "axis": null},
  "color": {"field": "v", "type": "quantitative", "scale": {"domain": [0,1.125,2.25,3.375,4.5,5.625,6.75,7.875,9], "range": ["#352a87","#0f5cdd","#1481d6","#06a4ca","#2eb7a4","#87bf77","#d1bb59","#fec832","#f9fb0e"]}, "legend": {"title": null, "values": [0,5,9], "gradientLength": 150}}
 }},
{"width": 150, "height": 150, "data": {"name": "p12"},
 "title": {"text": "Cluster 4", "fontSize": 20, "offset": 4},
 "mark": "rect",
 "encoding": {
  "x": {"field": "c", "type": "ordinal", "scale": {"paddingInner": 0, "paddingOuter": 0}, "axis": {"title": "D= 0.73, P< 0.001", "labels": false, "ticks": false, "domain": false, "titleFontSize": 20.5, "titlePadding": 9, "titleAnchor": "start", "titleAlign": "left", "titleX": 0}},
  "y": {"field": "r", "type": "ordinal", "scale": {"paddingInner": 0, "paddingOuter": 0}, "axis": {"orient": "right", "labels": false, "ticks": false, "domain": false, "title": "Children Per Node", "titleAngle": 90, "titleFontSize": 16, "titleAlign": "center", "titleBaseline": "middle", "titleX": 37, "titleY": 75}},
  "color": {"field": "v", "type": "quantitative", "scale": {"domain": [0,1.125,2.25,3.375,4.5,5.625,6.75,7.875,9], "range": ["#352a87","#0f5cdd","#1481d6","#06a4ca","#2eb7a4","#87bf77","#d1bb59","#fec832","#f9fb0e"]}, "legend": {"title": null, "values": [0,5,9], "gradientLength": 150, "offset": -41}}
 }}
]
}
]
}
]
}
